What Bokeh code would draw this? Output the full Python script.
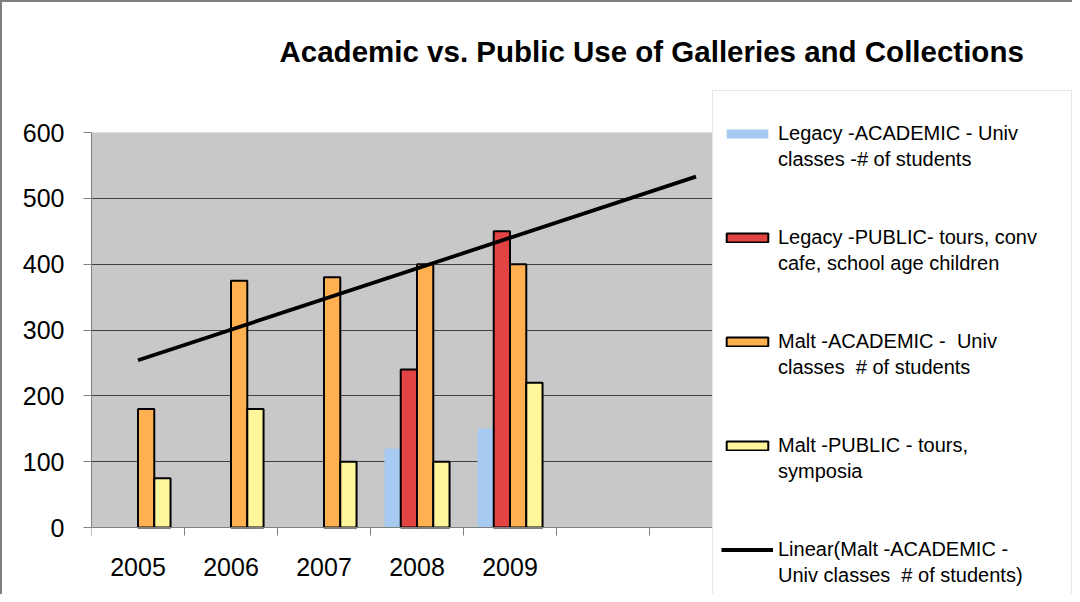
import numpy as np
from bokeh.plotting import figure
from bokeh.models import ColumnDataSource, FixedTicker, Legend, LegendItem, BoxAnnotation
from bokeh.transform import dodge
from bokeh.embed import file_html
from bokeh.resources import INLINE

title_text = "Academic vs. Public Use of Galleries and Collections"
years = ["2005", "2006", "2007", "2008", "2009"]
forecast_periods = 2
legacy_academic = [None, None, None, 120, 150]
legacy_public = [None, None, None, 240, 450]
malt_academic = [180, 375, 380, 400, 400]
malt_public = [75, 180, 100, 100, 220]
y_ticks = [0, 100, 200, 300, 400, 500, 600]
labels = [
    ["Legacy -ACADEMIC - Univ", "classes -# of students"],
    ["Legacy -PUBLIC- tours, conv", "cafe, school age children"],
    ["Malt -ACADEMIC -  Univ", "classes  # of students"],
    ["Malt -PUBLIC - tours,", "symposia"],
    ["Linear(Malt -ACADEMIC -", "Univ classes  # of students)"],
]
colors = ["#A6CAF0", "#E24444", "#FFB152", "#FFF59B"]

FONT = "Liberation Sans"
n = len(years)
idx = list(range(1, n + 1))
n_all = n + forecast_periods

# layout (pixels)
W, H = 1072, 594
LEFT = 91           # plot area left
TOP = 89            # frame top (legend top sits here)
AXIS_Y = 527        # pixel row of value 0
TOP_Y = 132         # pixel row of top value
CAT_PX = 93         # width of one category
LEGEND_X = 712      # legend left edge

ppu = (AXIS_Y - TOP_Y) / (y_ticks[-1] - y_ticks[0])
y_lo = y_ticks[0] - (H - AXIS_Y) / ppu
y_hi = y_ticks[-1] + (TOP_Y - TOP) / ppu
x_lo = 0.5
x_hi = x_lo + (W - LEFT) / CAT_PX
x_plot_end = x_lo + (LEGEND_X - LEFT) / CAT_PX

p = figure(width=W, height=H, x_range=(x_lo, x_hi), y_range=(y_lo, y_hi),
           output_backend="svg", toolbar_location=None,
           min_border_left=LEFT, min_border_top=TOP, min_border_bottom=0, min_border_right=0)
p.styles = {"box-shadow": "inset 2px 2px 0 #7f7f7f"}
p.border_fill_color = None
p.background_fill_color = None
p.outline_line_color = None

# grey plot area
p.add_layout(BoxAnnotation(bottom=y_ticks[0], top=y_ticks[-1], right=x_plot_end,
                           fill_color="#C8C8C8", fill_alpha=1, line_color=None, level="image"))

p.title.text = title_text
p.title.text_font = FONT
p.title.text_font_size = "29.5px"
p.title.text_font_style = "bold"
p.title.text_color = "black"
p.title.align = "left"
p.title.offset = 188
p.title.standoff = 44

bar_w = 0.175
offsets = [-1.5 * bar_w, -0.5 * bar_w, 0.5 * bar_w, 1.5 * bar_w]
series = [legacy_academic, legacy_public, malt_academic, malt_public]
renderers = []
for i, (vals, col) in enumerate(zip(series, colors)):
    top = [float("nan") if v is None else v for v in vals]
    src = ColumnDataSource(dict(x=idx, top=top))
    r = p.vbar(x=dodge("x", offsets[i]), top="top", width=bar_w, source=src,
               fill_color=col,
               line_color=None if i == 0 else "black", line_width=2)
    renderers.append(r)

# linear trendline of Malt academic, forecast forward
slope, intercept = np.polyfit(idx, malt_academic, 1)
tx = [idx[0], n_all]
ty = [slope * t + intercept for t in tx]
rl = p.line(tx, ty, line_color="black", line_width=3.8)
renderers.append(rl)

# invisible renderer for the wrapped second lines of legend labels
dummy = p.scatter(x=[], y=[], fill_alpha=0, line_alpha=0)

p.xgrid.visible = False
p.ygrid.ticker = FixedTicker(ticks=y_ticks[1:-1])
p.ygrid.grid_line_color = "#404040"
p.ygrid.grid_line_width = 1

ya = p.yaxis[0]
ya.ticker = FixedTicker(ticks=y_ticks)
ya.bounds = (y_ticks[0], y_ticks[-1])
ya.major_tick_out = 8
ya.major_tick_in = 0
ya.minor_tick_line_color = None
ya.axis_line_color = "#808080"
ya.major_tick_line_color = "#808080"
ya.major_label_text_font = FONT
ya.major_label_text_font_size = "25px"
ya.major_label_text_color = "black"
ya.major_label_standoff = 19

xa = p.xaxis[0]
xa.fixed_location = y_ticks[0]
xa.bounds = (x_lo, n_all + 0.5)
xa.ticker = FixedTicker(ticks=idx, minor_ticks=[i + 0.5 for i in range(0, n_all + 1)])
xa.major_label_overrides = {i: y for i, y in zip(idx, years)}
xa.major_tick_line_color = None
xa.major_tick_out = 0
xa.major_tick_in = 0
xa.minor_tick_out = 8
xa.minor_tick_in = 0
xa.minor_tick_line_color = "#808080"
xa.axis_line_color = "#808080"
xa.major_label_text_font = FONT
xa.major_label_text_font_size = "25px"
xa.major_label_text_color = "black"
xa.major_label_standoff = 22

items = []
for k, (lab, r) in enumerate(zip(labels, renderers)):
    items.append(LegendItem(label=lab[0], renderers=[r]))
    items.append(LegendItem(label=lab[1], renderers=[dummy]))
    items.append(LegendItem(label=" ", renderers=[dummy]))
    items.append(LegendItem(label="  ", renderers=[dummy]))

LEGEND_H = 558
legend = Legend(items=items, location=(LEGEND_X - LEFT, (H - TOP) - 1 - LEGEND_H), ncols=1,
                glyph_width=52, glyph_height=11, label_standoff=5,
                label_text_font=FONT, label_text_font_size="20px", label_text_color="black",
                label_height=23, label_width=285,
                spacing=3, padding=8, margin=0,
                border_line_color="#d0d0d0", border_line_width=1,
                background_fill_color="white", background_fill_alpha=1,
                title=" ", title_text_font_size="18px", title_standoff=2)
p.add_layout(legend)

open("out.html", "w").write(file_html(p, INLINE))
